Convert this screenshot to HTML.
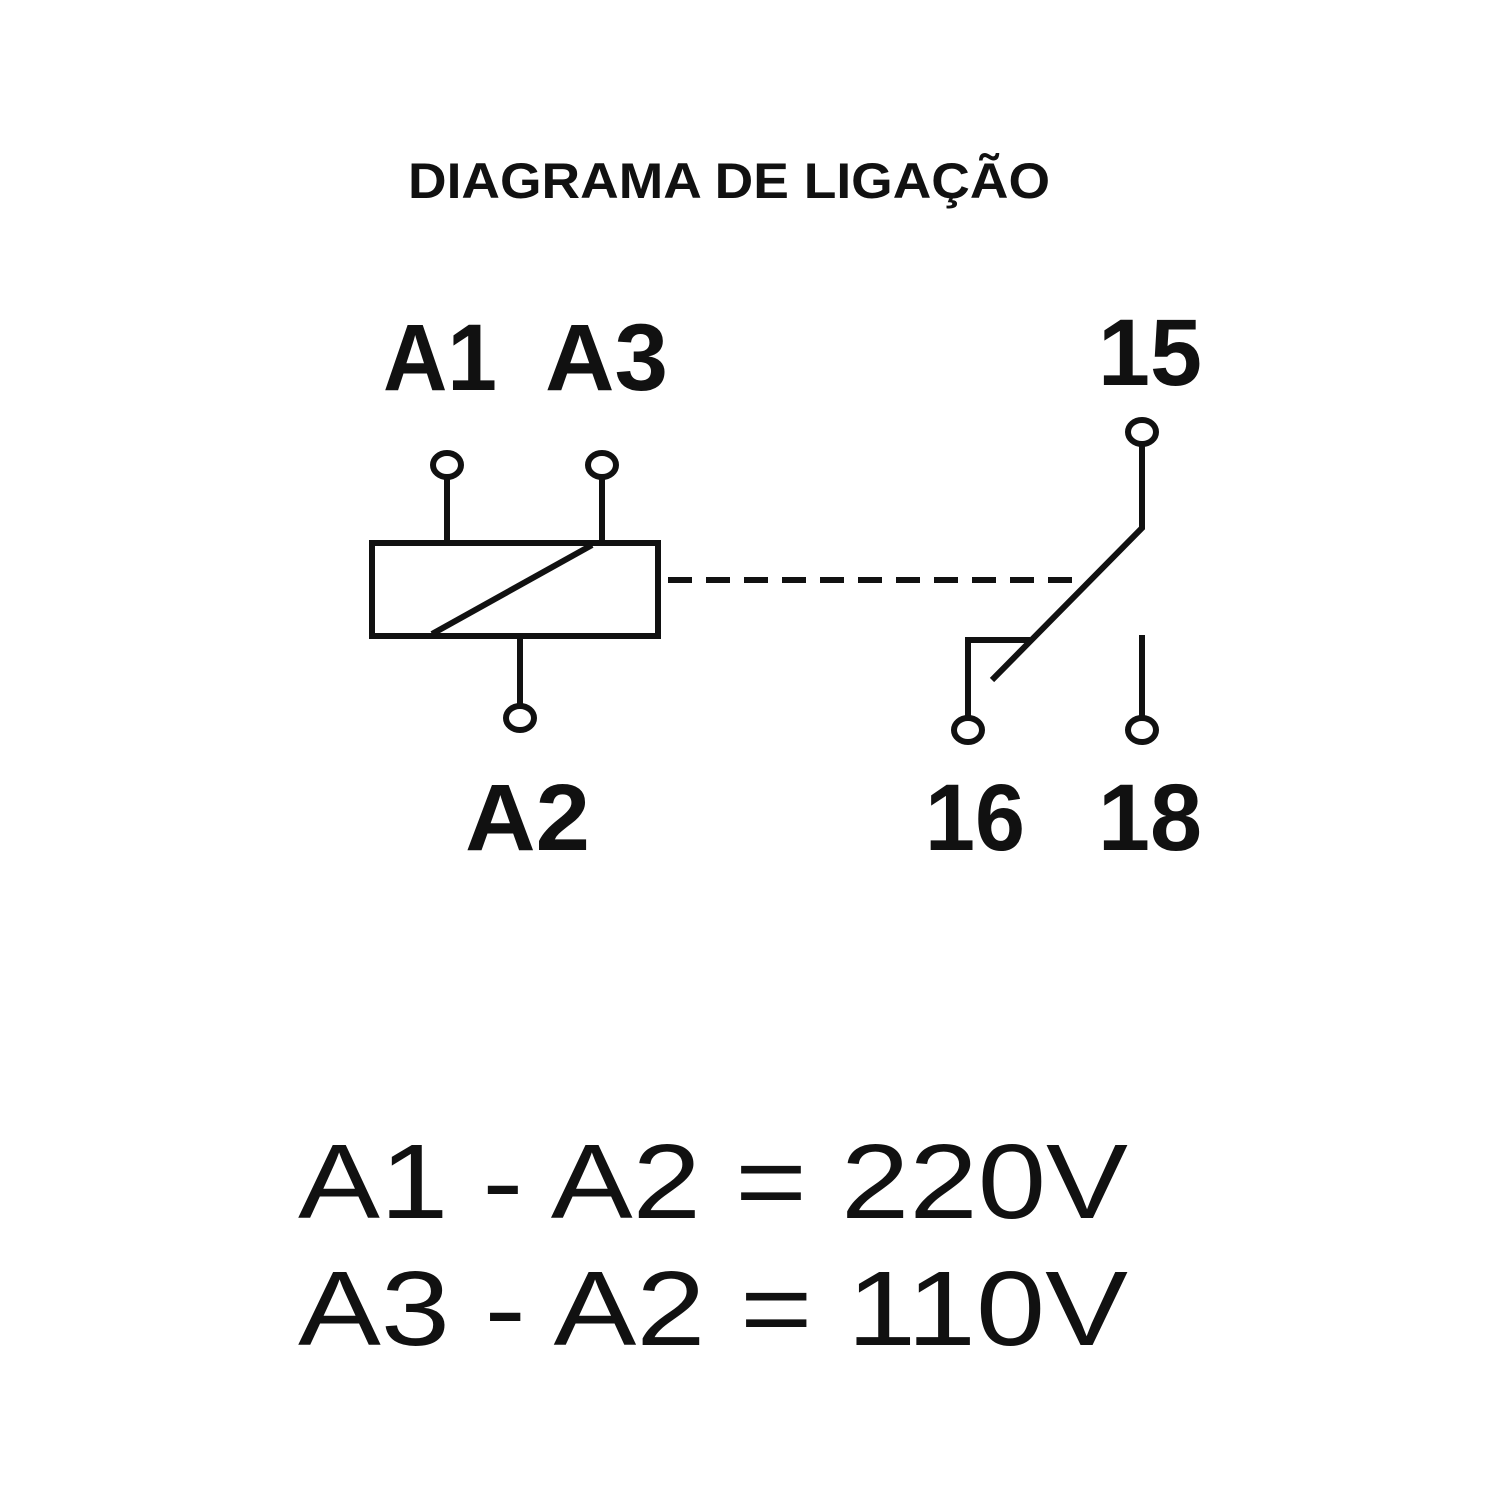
<!DOCTYPE html>
<html><head><meta charset="utf-8"><style>html,body{margin:0;padding:0;background:#fff}</style></head>
<body>
<svg width="1500" height="1500" viewBox="0 0 1500 1500" xmlns="http://www.w3.org/2000/svg">
<rect width="1500" height="1500" fill="#fff"/>
<g font-family="Liberation Sans, sans-serif" fill="#111">
<text x="408" y="198" font-size="50" font-weight="bold" textLength="642" lengthAdjust="spacingAndGlyphs">DIAGRAMA DE LIGAÇÃO</text>
<text x="383" y="390" font-size="95" font-weight="bold" textLength="114" lengthAdjust="spacingAndGlyphs">A1</text>
<text x="545" y="390" font-size="95" font-weight="bold" textLength="123" lengthAdjust="spacingAndGlyphs">A3</text>
<text x="1098" y="385" font-size="95" font-weight="bold" textLength="104" lengthAdjust="spacingAndGlyphs">15</text>
<text x="465" y="850" font-size="95" font-weight="bold" textLength="125" lengthAdjust="spacingAndGlyphs">A2</text>
<text x="925" y="850" font-size="95" font-weight="bold" textLength="100" lengthAdjust="spacingAndGlyphs">16</text>
<text x="1098" y="850" font-size="95" font-weight="bold" textLength="104" lengthAdjust="spacingAndGlyphs">18</text>
<text x="298" y="1218" font-size="106" textLength="830" lengthAdjust="spacingAndGlyphs">A1 - A2 = 220V</text>
<text x="298" y="1345" font-size="106" textLength="830" lengthAdjust="spacingAndGlyphs">A3 - A2 = 110V</text>
</g>
<g stroke="#111" stroke-width="6" fill="none">
<rect x="372" y="543" width="286" height="93"/>
<line x1="432" y1="634" x2="592" y2="545"/>
<line x1="447" y1="478" x2="447" y2="543"/>
<line x1="602" y1="478" x2="602" y2="543"/>
<line x1="520" y1="636" x2="520" y2="706"/>
<ellipse cx="447" cy="465" rx="14" ry="12"/>
<ellipse cx="602" cy="465" rx="14" ry="12"/>
<ellipse cx="520" cy="718" rx="14" ry="12"/>
<line x1="668" y1="580" x2="1085" y2="580" stroke-dasharray="24,14"/>
<ellipse cx="1142" cy="432" rx="14" ry="12"/>
<polyline points="1142,444 1142,528 992,680"/>
<polyline points="968,718 968,640 1030,640"/>
<ellipse cx="968" cy="730" rx="14" ry="12"/>
<line x1="1142" y1="635" x2="1142" y2="718"/>
<ellipse cx="1142" cy="730" rx="14" ry="12"/>
</g>
</svg>
</body></html>
